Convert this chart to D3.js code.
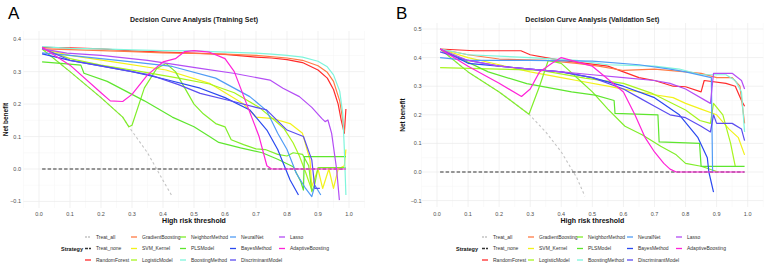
<!DOCTYPE html>
<html>
<head>
<meta charset="utf-8">
<script src="https://cdn.jsdelivr.net/npm/d3@7"></script>
<style>
  body { margin: 0; background: #fff; }
  svg { font-family: "Liberation Sans", Arial, sans-serif; }
</style>
</head>
<body>
<svg id="chart" width="767" height="267"></svg>
<script>
// Strategy names (legend order, column-major in 3 rows)
const strategies = ["Treat_all", "Treat_none", "RandomForest", "GradientBoosting", "SVM_Kernel",
    "LogisticModel", "NeighborMethod", "PLSModel", "BoostingMethod", "NeuralNet",
    "BayesMethod", "DiscriminantModel", "Lasso", "AdaptiveBoosting"];
const strategyColors = ["#c4c4c4", "#333333", "#ff2b2b", "#ff7a45", "#f2f21a",
    "#a8f51f", "#80ee2a", "#5ee62e", "#7ff5dc", "#519cf5",
    "#2a49f0", "#5b4df0", "#b44df5", "#ff22d8"];
const xTicks = [0, 0.1, 0.2, 0.3, 0.4, 0.5, 0.6, 0.7, 0.8, 0.9, 1.0];
const yTicksTrain = [-0.1, 0, 0.1, 0.2, 0.3, 0.4];
const yTicksValid = [-0.1, 0, 0.1, 0.2, 0.3, 0.4, 0.5];

// ---- Training set curves [threshold, net benefit] ----
const trainTreatAll = [[0.01,0.37],[0.1,0.3],[0.2,0.22],[0.27,0.16],[0.29,0.13],[0.35,0.05],[0.4,-0.035],[0.43,-0.085]];
const trainTreatNone = [[0.01,0],[0.99,0]];
const trainRandomForest = [[0.01,0.375],[0.1,0.373],[0.2,0.37],[0.3,0.364],[0.4,0.36],[0.5,0.357],[0.6,0.353],[0.7,0.345],[0.75,0.342],[0.8,0.337],[0.85,0.328],[0.9,0.305],[0.93,0.28],[0.95,0.245],[0.965,0.2],[0.975,0.15],[0.985,0.11],[0.99,0.185]];
const trainGradientBoosting = [[0.01,0.37],[0.1,0.368],[0.2,0.365],[0.3,0.362],[0.4,0.358],[0.5,0.356],[0.6,0.354],[0.7,0.35],[0.8,0.342],[0.85,0.335],[0.9,0.318],[0.93,0.298],[0.95,0.27],[0.97,0.21],[0.98,0.15],[0.985,0.115]];
const trainSVM = [[0.01,0.37],[0.1,0.35],[0.24,0.33],[0.41,0.305],[0.55,0.264],[0.63,0.218],[0.66,0.2],[0.7,0.16],[0.756,0.155],[0.81,0.14],[0.85,0.11],[0.874,0.028],[0.88,-0.055],[0.9,0.0],[0.915,-0.06],[0.935,0.0],[0.95,-0.06],[0.965,0.0],[0.985,0.01],[0.99,0.06]];
const trainLogistic = [[0.01,0.37],[0.1,0.34],[0.2,0.32],[0.33,0.3],[0.45,0.28],[0.55,0.262],[0.63,0.235],[0.71,0.19],[0.76,0.15],[0.79,0.125],[0.82,0.08],[0.84,0.04],[0.86,-0.01],[0.88,-0.065]];
const trainNeighbor = [[0.01,0.37],[0.1,0.3],[0.2,0.22],[0.27,0.16],[0.29,0.13],[0.3,0.135],[0.34,0.25],[0.38,0.31],[0.41,0.325],[0.44,0.3],[0.47,0.25],[0.5,0.2],[0.53,0.17],[0.57,0.14],[0.6,0.13],[0.62,0.09],[0.66,0.075],[0.7,0.062],[0.73,0.06],[0.77,0.045],[0.8,0.04],[0.82,0.05],[0.85,0.045],[0.87,0.01],[0.88,-0.07],[0.89,-0.045],[0.9,0.004],[0.99,0.004]];
const trainPLS = [[0.01,0.33],[0.08,0.325],[0.135,0.32],[0.145,0.295],[0.22,0.27],[0.28,0.24],[0.34,0.21],[0.43,0.16],[0.5,0.13],[0.55,0.1],[0.58,0.082],[0.65,0.065],[0.72,0.05],[0.77,0.03],[0.82,0.007],[0.845,-0.04],[0.853,-0.065],[0.856,0.038],[0.99,0.038]];
const trainBoosting = [[0.01,0.377],[0.1,0.372],[0.2,0.37],[0.3,0.367],[0.4,0.365],[0.5,0.364],[0.6,0.36],[0.7,0.357],[0.75,0.354],[0.8,0.35],[0.85,0.345],[0.9,0.332],[0.93,0.315],[0.95,0.29],[0.97,0.24],[0.98,0.17],[0.985,0.06],[0.99,-0.08]];
const trainNeuralNet = [[0.01,0.358],[0.1,0.35],[0.2,0.34],[0.3,0.33],[0.43,0.316],[0.57,0.28],[0.68,0.223],[0.734,0.18],[0.77,0.11],[0.8,0.06],[0.83,-0.013],[0.86,-0.06],[0.88,-0.085],[0.89,-0.05],[0.909,-0.08]];
const trainBayes = [[0.01,0.355],[0.1,0.335],[0.2,0.318],[0.3,0.3],[0.4,0.278],[0.52,0.249],[0.6,0.22],[0.68,0.182],[0.735,0.12],[0.77,0.06],[0.81,-0.034],[0.837,-0.08]];
const trainDiscriminant = [[0.01,0.372],[0.1,0.335],[0.197,0.318],[0.358,0.29],[0.45,0.26],[0.52,0.233],[0.627,0.208],[0.7,0.19],[0.734,0.182],[0.8,0.12],[0.853,0.1],[0.88,0.028],[0.89,-0.06],[0.906,-0.06]];
const trainLasso = [[0.01,0.37],[0.09,0.357],[0.2,0.35],[0.35,0.335],[0.52,0.31],[0.627,0.295],[0.745,0.274],[0.787,0.249],[0.84,0.223],[0.88,0.19],[0.912,0.156],[0.923,0.146],[0.932,0.151],[0.944,0.11],[0.96,0.0],[0.969,-0.096]];
const trainAdaptive = [[0.01,0.375],[0.1,0.32],[0.2,0.235],[0.23,0.21],[0.27,0.208],[0.3,0.23],[0.35,0.29],[0.4,0.33],[0.44,0.34],[0.47,0.362],[0.5,0.365],[0.55,0.36],[0.6,0.34],[0.63,0.3],[0.67,0.2],[0.71,0.1],[0.735,0.01],[0.75,0],[0.99,0]];

// ---- Validation set curves ----
const validTreatAll = [[0.01,0.43],[0.1,0.35],[0.2,0.28],[0.296,0.202],[0.35,0.14],[0.4,0.07],[0.45,-0.02],[0.476,-0.085]];
const validTreatNone = [[0.01,0],[0.99,0]];
const validRandomForest = [[0.01,0.43],[0.12,0.424],[0.27,0.424],[0.3,0.41],[0.35,0.4],[0.4,0.39],[0.48,0.38],[0.55,0.37],[0.6,0.35],[0.65,0.33],[0.7,0.32],[0.76,0.3],[0.8,0.298],[0.85,0.28],[0.86,0.32],[0.93,0.31],[0.96,0.3],[0.98,0.25],[0.99,0.23]];
const validGradientBoosting = [[0.01,0.43],[0.1,0.41],[0.2,0.395],[0.35,0.39],[0.45,0.38],[0.52,0.37],[0.6,0.355],[0.7,0.36],[0.8,0.35],[0.85,0.345],[0.9,0.33],[0.95,0.33],[0.975,0.3],[0.99,0.17]];
const validSVM = [[0.01,0.43],[0.1,0.4],[0.2,0.375],[0.3,0.35],[0.4,0.33],[0.45,0.32],[0.55,0.3],[0.6,0.29],[0.7,0.27],[0.76,0.26],[0.8,0.24],[0.85,0.22],[0.9,0.2],[0.94,0.15],[0.97,0.12],[0.99,0.06]];
const validLogistic = [[0.01,0.365],[0.2,0.36],[0.33,0.356],[0.476,0.328],[0.6,0.31],[0.69,0.276],[0.8,0.217],[0.846,0.18],[0.88,0.17],[0.89,0.24],[0.92,0.2],[0.945,0.1],[0.96,0.02]];
const validNeighbor = [[0.01,0.43],[0.1,0.35],[0.2,0.28],[0.296,0.202],[0.33,0.3],[0.358,0.39],[0.4,0.38],[0.43,0.35],[0.46,0.32],[0.5,0.28],[0.55,0.22],[0.605,0.16],[0.66,0.13],[0.72,0.09],[0.77,0.06],[0.8,0.03],[0.85,0.02],[0.905,0.0]];
const validPLS = [[0.01,0.43],[0.165,0.35],[0.289,0.309],[0.433,0.28],[0.509,0.269],[0.57,0.25],[0.573,0.205],[0.711,0.2],[0.715,0.105],[0.845,0.1],[0.85,0.02],[0.99,0.02]];
const validBoosting = [[0.01,0.43],[0.1,0.41],[0.3,0.4],[0.45,0.39],[0.55,0.375],[0.7,0.37],[0.78,0.36],[0.85,0.34],[0.93,0.34],[0.96,0.32],[0.98,0.28],[0.99,0.14]];
const validNeuralNet = [[0.01,0.4],[0.1,0.39],[0.3,0.39],[0.5,0.388],[0.65,0.375],[0.75,0.36],[0.8,0.35],[0.883,0.33],[0.887,0.0]];
const validBayes = [[0.01,0.43],[0.1,0.38],[0.3,0.36],[0.4,0.35],[0.5,0.33],[0.6,0.3],[0.7,0.26],[0.78,0.2],[0.84,0.12],[0.87,0.05],[0.875,0],[0.89,-0.07]];
const validDiscriminant = [[0.01,0.42],[0.1,0.39],[0.2,0.37],[0.3,0.36],[0.4,0.35],[0.5,0.33],[0.6,0.29],[0.65,0.26],[0.7,0.23],[0.75,0.2],[0.8,0.19],[0.85,0.16],[0.88,0.14],[0.89,0.2],[0.9,0.17],[0.95,0.17],[0.98,0.15],[0.99,0.11]];
const validLasso = [[0.01,0.43],[0.1,0.39],[0.2,0.37],[0.3,0.36],[0.4,0.35],[0.5,0.34],[0.6,0.33],[0.7,0.32],[0.75,0.31],[0.8,0.29],[0.88,0.24],[0.89,0.345],[0.95,0.345],[0.98,0.32],[0.99,0.29]];
const validAdaptive = [[0.01,0.43],[0.1,0.37],[0.2,0.31],[0.272,0.264],[0.3,0.29],[0.33,0.35],[0.37,0.38],[0.4,0.4],[0.45,0.385],[0.5,0.37],[0.54,0.334],[0.6,0.28],[0.637,0.2],[0.67,0.12],[0.7,0.07],[0.73,0.03],[0.75,0.01],[0.77,0],[0.99,0]];

const trainSeries = [trainTreatAll, trainTreatNone, trainRandomForest, trainGradientBoosting, trainSVM,
    trainLogistic, trainNeighbor, trainPLS, trainBoosting, trainNeuralNet,
    trainBayes, trainDiscriminant, trainLasso, trainAdaptive];
const validSeries = [validTreatAll, validTreatNone, validRandomForest, validGradientBoosting, validSVM,
    validLogistic, validNeighbor, validPLS, validBoosting, validNeuralNet,
    validBayes, validDiscriminant, validLasso, validAdaptive];

const svg = d3.select("#chart");

function drawPanel(p) {
    let g = svg.append("g");

    let x = d3.scaleLinear().domain([0, 1]).range([p.x0, p.x1]);
    let y = d3.scaleLinear().domain([0, p.yTop]).range([p.y0, p.yTopPx]);
    let xd = [-0.05, 1.05];

    // grid (major + minor)
    let minorX = d3.range(-0.05, 1.06, 0.1);
    let minorY = d3.range(p.yTicks[0] - 0.05, p.yTicks[p.yTicks.length - 1] + 0.06, 0.1);
    g.selectAll(".gminx").data(minorX).enter().append("line")
        .attr("x1", d => x(d)).attr("x2", d => x(d))
        .attr("y1", p.panelTop).attr("y2", p.panelBottom)
        .attr("stroke", "#f4f4f4").attr("stroke-width", 0.5);
    g.selectAll(".gminy").data(minorY.filter(d => y(d) > p.panelTop && y(d) < p.panelBottom)).enter().append("line")
        .attr("x1", x(xd[0])).attr("x2", x(xd[1]))
        .attr("y1", d => y(d)).attr("y2", d => y(d))
        .attr("stroke", "#f4f4f4").attr("stroke-width", 0.5);
    g.selectAll(".gx").data(xTicks).enter().append("line")
        .attr("x1", d => x(d)).attr("x2", d => x(d))
        .attr("y1", p.panelTop).attr("y2", p.panelBottom)
        .attr("stroke", "#ebebeb").attr("stroke-width", 0.7);
    g.selectAll(".gy").data(p.yTicks).enter().append("line")
        .attr("x1", x(xd[0])).attr("x2", x(xd[1]))
        .attr("y1", d => y(d)).attr("y2", d => y(d))
        .attr("stroke", "#ebebeb").attr("stroke-width", 0.7);

    // tick labels
    g.selectAll(".tx").data(xTicks).enter().append("text")
        .attr("x", d => x(d)).attr("y", 216)
        .attr("text-anchor", "middle").attr("font-size", 5.5).attr("fill", "#4d4d4d")
        .text(d => d.toFixed(1));
    g.selectAll(".ty").data(p.yTicks).enter().append("text")
        .attr("x", p.yLabX).attr("y", d => y(d) + 2)
        .attr("text-anchor", "end").attr("font-size", 5.5).attr("fill", "#4d4d4d")
        .text(d => d === 0 ? "0.0" : (d < 0 ? "\u2212" + Math.abs(d).toFixed(1) : d.toFixed(1)));

    // lines
    let line = d3.line().x(d => x(d[0])).y(d => y(d[1]));
    p.series.forEach((s, i) => {
        g.append("path")
            .datum(s)
            .attr("d", line)
            .attr("fill", "none")
            .attr("stroke", strategyColors[i])
            .attr("stroke-width", i < 2 ? 1.1 : 1.2)
            .attr("stroke-dasharray", i === 0 ? "2.5,2.5" : (i === 1 ? "3.5,2" : null))
            .attr("stroke-linejoin", "round");
    });

    // titles
    g.append("text").attr("x", (p.x0 + p.x1) / 2).attr("y", 22)
        .attr("text-anchor", "middle").attr("font-size", 7).attr("font-weight", "bold")
        .attr("fill", "#222").text(p.title);
    g.append("text").attr("x", p.letterX).attr("y", 19)
        .attr("font-size", 17).attr("fill", "#000").text(p.letter);
    g.append("text").attr("x", (p.x0 + p.x1) / 2).attr("y", 223)
        .attr("text-anchor", "middle").attr("font-size", 7).attr("font-weight", "bold")
        .attr("fill", "#111").text("High risk threshold");
    g.append("text")
        .attr("transform", "translate(" + p.yTitleX + "," + ((p.panelTop + p.panelBottom) / 2) + ") rotate(-90)")
        .attr("text-anchor", "middle").attr("font-size", 6.5).attr("font-weight", "bold")
        .attr("fill", "#111").text("Net benefit");

    // legend
    let rows = [237, 248.5, 260];
    g.append("text").attr("x", p.legStrategyX).attr("y", rows[1] + 2)
        .attr("text-anchor", "middle").attr("font-size", 5.5).attr("font-weight", "bold")
        .attr("fill", "#111").text("Strategy");
    strategies.forEach((name, i) => {
        let col = Math.floor(i / 3), row = i % 3;
        let kx = p.legCols[col];
        g.append("line")
            .attr("x1", kx - 3).attr("x2", kx + 3)
            .attr("y1", rows[row]).attr("y2", rows[row])
            .attr("stroke", strategyColors[i]).attr("stroke-width", 1.3)
            .attr("stroke-dasharray", i === 0 ? "2,1" : (i === 1 ? "3,1" : null));
        g.append("text").attr("x", kx + 8).attr("y", rows[row] + 1.8)
            .attr("font-size", 5).attr("fill", "#333").text(name);
    });
}

drawPanel({
    series: trainSeries, title: "Decision Curve Analysis (Training Set)", letter: "A",
    x0: 39, x1: 349, y0: 169, yTop: 0.4, yTopPx: 39.2, yTicks: yTicksTrain,
    panelTop: 31, panelBottom: 208, yLabX: 21, yTitleX: 8, letterX: 8,
    legStrategyX: 72, legCols: [88, 134, 183, 233, 282]
});
drawPanel({
    series: validSeries, title: "Decision Curve Analysis (Validation Set)", letter: "B",
    x0: 437, x1: 747.7, y0: 172, yTop: 0.5, yTopPx: 29, yTicks: yTicksValid,
    panelTop: 23, panelBottom: 207, yLabX: 421.5, yTitleX: 405, letterX: 396,
    legStrategyX: 467, legCols: [485, 531, 580, 630, 679]
});
</script>
</body>
</html>
